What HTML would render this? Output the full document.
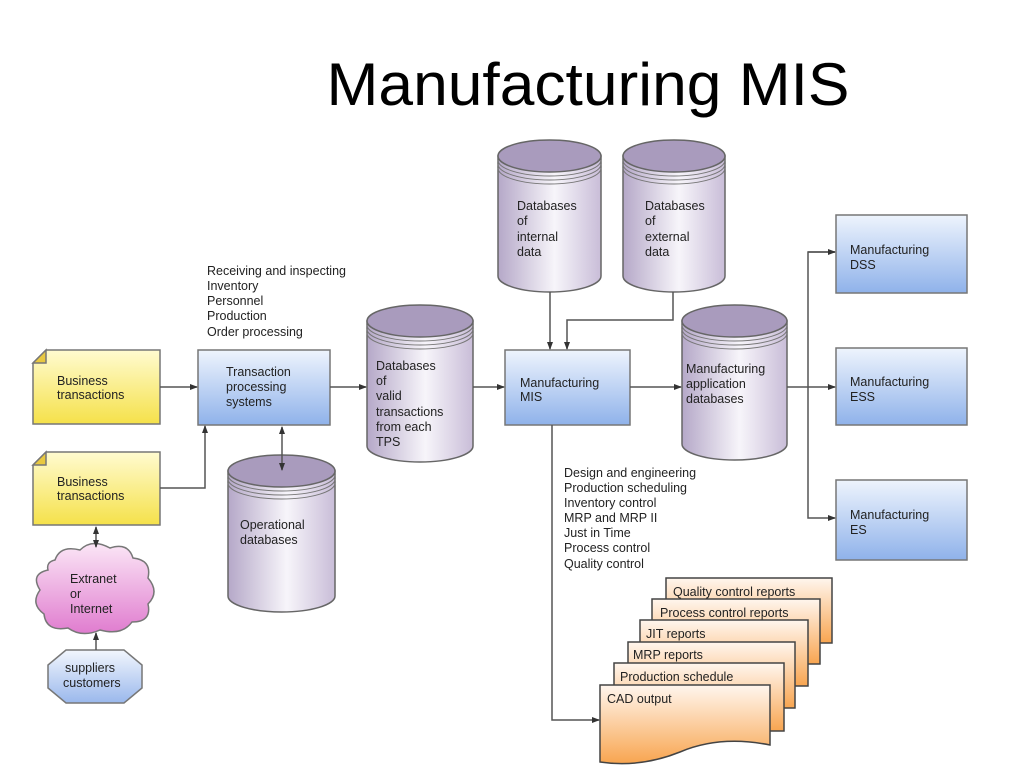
<!DOCTYPE html>
<html><head><meta charset="utf-8"><style>
html,body{margin:0;padding:0;background:#fff;}
svg{display:block;}
text{font-family:"Liberation Sans",sans-serif;fill:#222;}
.s{font-size:12.5px;}
</style></head><body>
<svg width="1024" height="768" viewBox="0 0 1024 768" xmlns="http://www.w3.org/2000/svg">
<defs>
<linearGradient id="yel" x1="0" y1="0" x2="0" y2="1"><stop offset="0" stop-color="#fffbd0"/><stop offset="1" stop-color="#f5e14a"/></linearGradient>
<linearGradient id="blu" x1="0" y1="0" x2="0" y2="1"><stop offset="0" stop-color="#eef4fd"/><stop offset="1" stop-color="#8fb2ea"/></linearGradient>
<linearGradient id="cyl" x1="0" y1="0" x2="1" y2="0"><stop offset="0" stop-color="#b5a8c8"/><stop offset="0.55" stop-color="#f7f5fa"/><stop offset="1" stop-color="#c9bdd8"/></linearGradient>
<linearGradient id="pink" x1="0" y1="0" x2="0" y2="1"><stop offset="0" stop-color="#fbe6f6"/><stop offset="1" stop-color="#e07ccf"/></linearGradient>
<linearGradient id="oct" x1="0" y1="0" x2="0" y2="1"><stop offset="0" stop-color="#f2f6fd"/><stop offset="1" stop-color="#9ab8ec"/></linearGradient>
<linearGradient id="org" x1="0" y1="0" x2="0" y2="1"><stop offset="0" stop-color="#fff6ee"/><stop offset="1" stop-color="#f8a550"/></linearGradient>
<marker id="ar" markerWidth="8" markerHeight="8" refX="7" refY="4" orient="auto" markerUnits="userSpaceOnUse"><path d="M0,1 L8,4 L0,7z" fill="#333"/></marker>
<marker id="as" markerWidth="8" markerHeight="8" refX="1" refY="4" orient="auto" markerUnits="userSpaceOnUse"><path d="M8,1 L0,4 L8,7z" fill="#333"/></marker>
</defs>

<text x="588" y="105" text-anchor="middle" textLength="523" lengthAdjust="spacingAndGlyphs" style="font-size:60px;fill:#000">Manufacturing MIS</text>

<!-- yellow boxes -->
<g stroke="#777" stroke-width="1.5">
<path d="M46,350 H160 V424 H33 V363 Z" fill="url(#yel)"/>
<path d="M33,363 L46,350 L46,363 Z" fill="#e8c840"/>
<path d="M46,452 H160 V525 H33 V465 Z" fill="url(#yel)"/>
<path d="M33,465 L46,452 L46,465 Z" fill="#e8c840"/>
<rect x="198" y="350" width="132" height="75" fill="url(#blu)"/>
<rect x="505" y="350" width="125" height="75" fill="url(#blu)"/>
<rect x="836" y="215" width="131" height="78" fill="url(#blu)"/>
<rect x="836" y="348" width="131" height="77" fill="url(#blu)"/>
<rect x="836" y="480" width="131" height="80" fill="url(#blu)"/>
</g>
<text class="s" x="57" y="385">Business</text><text class="s" x="57" y="399">transactions</text>
<text class="s" x="57" y="486">Business</text><text class="s" x="57" y="500">transactions</text>
<text class="s" x="226" y="376">Transaction</text><text class="s" x="226" y="391">processing</text><text class="s" x="226" y="406">systems</text>
<text class="s" x="520" y="387">Manufacturing</text><text class="s" x="520" y="401">MIS</text>
<text class="s" x="850" y="254">Manufacturing</text><text class="s" x="850" y="269">DSS</text>
<text class="s" x="850" y="386">Manufacturing</text><text class="s" x="850" y="401">ESS</text>
<text class="s" x="850" y="519">Manufacturing</text><text class="s" x="850" y="534">ES</text>

<!-- cylinders -->
<g stroke="#666" stroke-width="1.5">
<path d="M498,156 V276 A51.5,16 0 0 0 601,276 V156 Z" fill="url(#cyl)"/>
<ellipse cx="549.5" cy="156" rx="51.5" ry="16" fill="#a99bbd"/>
<path d="M623,156 V276 A51,16 0 0 0 725,276 V156 Z" fill="url(#cyl)"/>
<ellipse cx="674" cy="156" rx="51" ry="16" fill="#a99bbd"/>
<path d="M367,321 V446 A53,16 0 0 0 473,446 V321 Z" fill="url(#cyl)"/>
<ellipse cx="420" cy="321" rx="53" ry="16" fill="#a99bbd"/>
<path d="M228,471 V596 A53.5,16 0 0 0 335,596 V471 Z" fill="url(#cyl)"/>
<ellipse cx="281.5" cy="471" rx="53.5" ry="16" fill="#a99bbd"/>
<path d="M682,321 V444 A52.5,16 0 0 0 787,444 V321 Z" fill="url(#cyl)"/>
<ellipse cx="734.5" cy="321" rx="52.5" ry="16" fill="#a99bbd"/>
</g>
<g stroke="#777" stroke-width="1" fill="none">
<path d="M498,160 A51.5,16 0 0 0 601,160 M498,164 A51.5,16 0 0 0 601,164 M498,168 A51.5,16 0 0 0 601,168"/>
<path d="M623,160 A51,16 0 0 0 725,160 M623,164 A51,16 0 0 0 725,164 M623,168 A51,16 0 0 0 725,168"/>
<path d="M367,325 A53,16 0 0 0 473,325 M367,329 A53,16 0 0 0 473,329 M367,333 A53,16 0 0 0 473,333"/>
<path d="M228,475 A53.5,16 0 0 0 335,475 M228,479 A53.5,16 0 0 0 335,479 M228,483 A53.5,16 0 0 0 335,483"/>
<path d="M682,325 A52.5,16 0 0 0 787,325 M682,329 A52.5,16 0 0 0 787,329 M682,333 A52.5,16 0 0 0 787,333"/>
</g>
<text class="s" x="517" y="210">Databases</text><text class="s" x="517" y="225">of</text><text class="s" x="517" y="241">internal</text><text class="s" x="517" y="256">data</text>
<text class="s" x="645" y="210">Databases</text><text class="s" x="645" y="225">of</text><text class="s" x="645" y="241">external</text><text class="s" x="645" y="256">data</text>
<text class="s" x="376" y="370">Databases</text><text class="s" x="376" y="385">of</text><text class="s" x="376" y="400">valid</text><text class="s" x="376" y="416">transactions</text><text class="s" x="376" y="431">from each</text><text class="s" x="376" y="446">TPS</text>
<text class="s" x="240" y="529">Operational</text><text class="s" x="240" y="544">databases</text>
<text class="s" x="686" y="373">Manufacturing</text><text class="s" x="686" y="388">application</text><text class="s" x="686" y="403">databases</text>

<!-- cloud -->
<path d="M55,560 Q60,545 80,550 Q92,538 110,548 Q128,542 133,558 Q152,560 148,578 Q160,592 148,604 Q152,622 132,622 Q122,636 100,630 Q82,638 68,628 Q46,632 44,614 Q30,604 40,590 Q30,574 48,570 Q46,562 55,560 Z" fill="url(#pink)" stroke="#777" stroke-width="1.5"/>
<text class="s" x="70" y="583">Extranet</text><text class="s" x="70" y="598">or</text><text class="s" x="70" y="613">Internet</text>
<!-- octagon -->
<polygon points="66,650 124,650 142,665 142,688 124,703 66,703 48,688 48,665" fill="url(#oct)" stroke="#777" stroke-width="1.5"/>
<text class="s" x="65" y="672">suppliers</text><text class="s" x="63" y="687">customers</text>

<!-- lists -->
<text class="s" x="207" y="275">Receiving and inspecting</text>
<text class="s" x="207" y="290">Inventory</text>
<text class="s" x="207" y="305">Personnel</text>
<text class="s" x="207" y="320">Production</text>
<text class="s" x="207" y="336">Order processing</text>
<text class="s" x="564" y="477">Design and engineering</text>
<text class="s" x="564" y="492">Production scheduling</text>
<text class="s" x="564" y="507">Inventory control</text>
<text class="s" x="564" y="522">MRP and MRP II</text>
<text class="s" x="564" y="537">Just in Time</text>
<text class="s" x="564" y="552">Process control</text>
<text class="s" x="564" y="568">Quality control</text>

<!-- report stack -->
<g stroke="#444" stroke-width="1.5" fill="url(#org)">
<path d="M666,578 H832 V643 H666 Z"/>
<path d="M652,599 H820 V664 H652 Z"/>
<path d="M640,620 H808 V686 H640 Z"/>
<path d="M628,642 H795 V708 H628 Z"/>
<path d="M614,663 H784 V731 H614 Z"/>
<path d="M600,685 H770 V745 Q720,735 680,752 Q640,768 600,762 Z"/>
</g>
<text class="s" x="673" y="596">Quality control reports</text>
<text class="s" x="660" y="617">Process control reports</text>
<text class="s" x="646" y="638">JIT reports</text>
<text class="s" x="633" y="659">MRP reports</text>
<text class="s" x="620" y="681">Production schedule</text>
<text class="s" x="607" y="703">CAD output</text>

<!-- connectors on top -->
<g stroke="#555" stroke-width="1.5" fill="none">
<line x1="160" y1="387" x2="197" y2="387" marker-end="url(#ar)"/>
<polyline points="160,488 205,488 205,426" marker-end="url(#ar)"/>
<line x1="282" y1="427" x2="282" y2="470" marker-start="url(#as)" marker-end="url(#ar)"/>
<line x1="96" y1="527" x2="96" y2="547" marker-start="url(#as)" marker-end="url(#ar)"/>
<line x1="96" y1="650" x2="96" y2="633" marker-end="url(#ar)"/>
<line x1="330" y1="387" x2="366" y2="387" marker-end="url(#ar)"/>
<line x1="473" y1="387" x2="504" y2="387" marker-end="url(#ar)"/>
<line x1="550" y1="292" x2="550" y2="349" marker-end="url(#ar)"/>
<polyline points="673,292 673,320 567,320 567,349" marker-end="url(#ar)"/>
<line x1="630" y1="387" x2="681" y2="387" marker-end="url(#ar)"/>
<line x1="787" y1="387" x2="835" y2="387" marker-end="url(#ar)"/>
<polyline points="835,252 808,252 808,518 835,518" marker-end="url(#ar)"/>
<line x1="808" y1="252" x2="835" y2="252" marker-end="url(#ar)"/>
<polyline points="552,425 552,720 599,720" marker-end="url(#ar)"/>
</g>
</svg>
</body></html>
